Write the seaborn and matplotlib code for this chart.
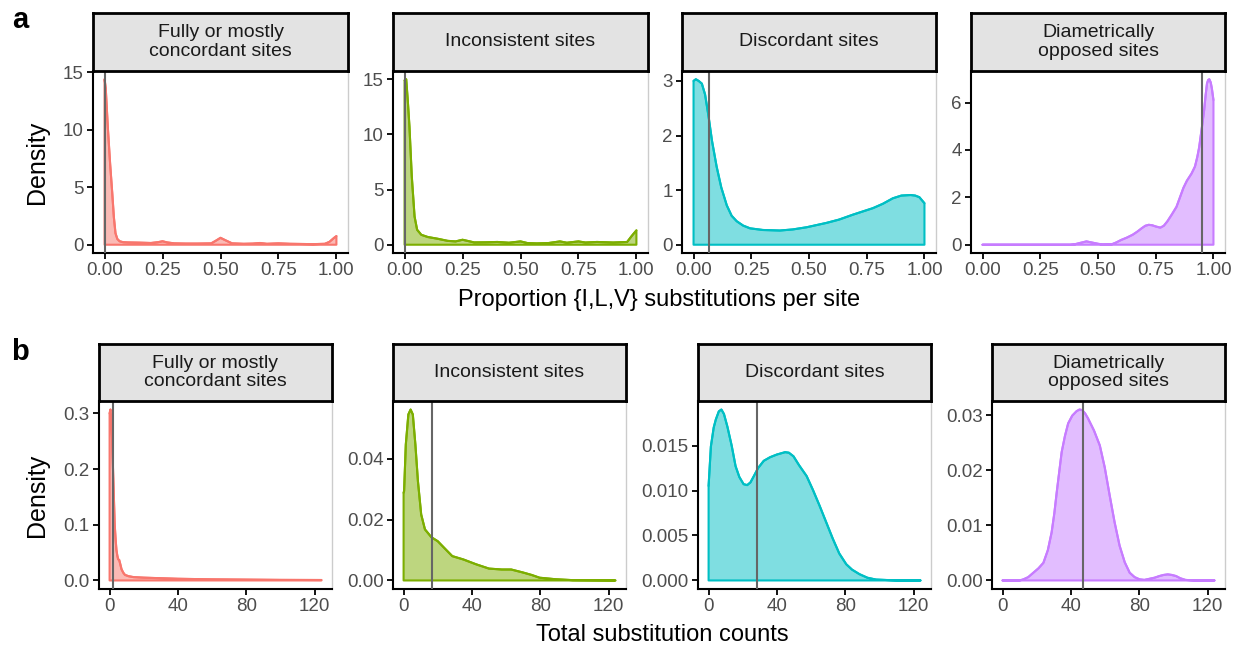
import numpy as np
import pandas as pd
import matplotlib
matplotlib.use("Agg")
import matplotlib.pyplot as plt
import seaborn as sns
from matplotlib.colors import to_rgba

sns.set_theme(style="white")
plt.rcParams['font.family'] = ['Liberation Sans', 'DejaVu Sans']

# ---------------- data ----------------
categories = ["Fully or mostly\nconcordant sites", "Inconsistent sites",
              "Discordant sites", "Diametrically\nopposed sites"]
colors = ["#F8766D", "#7CAE00", "#00BFC4", "#C77CFF"]

# Row a: density of proportion of {I,L,V} substitutions per site
a_conc_x = [0, 0.005, 0.014, 0.024, 0.033, 0.04, 0.047, 0.055, 0.065, 0.08, 0.1, 0.15, 0.2,
            0.23, 0.25, 0.27, 0.3, 0.35, 0.4, 0.46, 0.48, 0.5, 0.52, 0.55, 0.6, 0.64, 0.67,
            0.7, 0.75, 0.8, 0.9, 0.95, 0.97, 0.99, 1.0]
a_conc_y = [14.4, 13.6, 10.2, 7.0, 4.5, 2.4, 1.0, 0.5, 0.3, 0.22, 0.2, 0.18, 0.15,
            0.22, 0.3, 0.2, 0.12, 0.1, 0.1, 0.12, 0.35, 0.6, 0.4, 0.12, 0.08, 0.1, 0.15,
            0.08, 0.12, 0.08, 0.05, 0.08, 0.25, 0.6, 0.75]
a_inc_x = [0, 0.007, 0.014, 0.021, 0.031, 0.043, 0.054, 0.072, 0.1, 0.143, 0.186, 0.22, 0.25,
           0.3, 0.35, 0.4, 0.45, 0.5, 0.53, 0.57, 0.62, 0.67, 0.7, 0.75, 0.78, 0.83, 0.9,
           0.96, 0.98, 1.0]
a_inc_y = [14.9, 15.0, 13.0, 10.7, 6.2, 2.56, 1.36, 0.9, 0.7, 0.54, 0.35, 0.3, 0.45,
           0.21, 0.22, 0.25, 0.18, 0.3, 0.15, 0.12, 0.15, 0.3, 0.18, 0.3, 0.2, 0.25, 0.2,
           0.25, 0.8, 1.3]
a_dis_x = [0, 0.01, 0.022, 0.036, 0.05, 0.065, 0.08, 0.1, 0.12, 0.144, 0.165, 0.187, 0.215,
           0.245, 0.3, 0.374, 0.43, 0.49, 0.576, 0.63, 0.69, 0.777, 0.82, 0.863, 0.9, 0.94,
           0.96, 0.978, 1.0]
a_dis_y = [3.0, 3.03, 3.0, 2.95, 2.75, 2.35, 1.9, 1.43, 1.05, 0.72, 0.53, 0.43, 0.35,
           0.3, 0.27, 0.26, 0.28, 0.32, 0.4, 0.46, 0.55, 0.67, 0.75, 0.85, 0.9, 0.91,
           0.9, 0.87, 0.76]
a_opp_x = [0, 0.38, 0.40, 0.42, 0.45, 0.48, 0.5, 0.52, 0.56, 0.58, 0.6, 0.625, 0.65, 0.67,
           0.69, 0.705, 0.72, 0.735, 0.75, 0.77, 0.785, 0.8, 0.82, 0.84, 0.855, 0.87, 0.885,
           0.905, 0.92, 0.93, 0.938, 0.945, 0.952, 0.96, 0.966, 0.972, 0.977, 0.982, 0.988,
           0.993, 1.0]
a_opp_y = [0, 0, 0.02, 0.07, 0.14, 0.08, 0.04, 0.01, 0.02, 0.1, 0.2, 0.3, 0.42, 0.55,
           0.7, 0.8, 0.84, 0.82, 0.77, 0.72, 0.8, 0.98, 1.28, 1.6, 2.0, 2.4, 2.7,
           3.0, 3.3, 3.7, 4.1, 4.6, 5.1, 5.7, 6.3, 6.8, 6.95, 6.98, 6.85,
           6.6, 6.1]
a_medians = [0.0, 0.0, 0.069, 0.95]

# Row b: density of total substitution counts
b_conc_x = [0, 0.5, 1, 1.5, 2, 2.5, 3, 3.5, 4, 4.5, 5, 5.6, 6.2, 7, 8, 9, 11, 14, 20, 30,
            40, 60, 80, 100, 124]
b_conc_y = [0.30, 0.307, 0.29, 0.25, 0.2, 0.15, 0.1, 0.075, 0.055, 0.045, 0.038, 0.037,
            0.03, 0.02, 0.014, 0.01, 0.0077, 0.006, 0.005, 0.004, 0.003, 0.002, 0.0015,
            0.001, 0.0008]
b_inc_x = [0, 0.3, 1.3, 2.8, 4.1, 5.4, 6.9, 8.4, 10.3, 12.5, 16.3, 20, 23.8, 28.5, 35,
           42.5, 50, 57.5, 63, 70, 75, 79.6, 89, 99, 124]
b_inc_y = [0.0288, 0.0294, 0.0447, 0.0546, 0.0562, 0.0546, 0.0447, 0.0326, 0.0217, 0.0168,
           0.0142, 0.0129, 0.0107, 0.008, 0.0069, 0.0053, 0.0039, 0.0036, 0.0036, 0.0026,
           0.0018, 0.0009, 0.0004, 0.0001, 0.0]
b_dis_x = [0, 1.35, 3, 4.25, 6, 7.5, 9, 11, 13.5, 15.8, 18, 20.5, 22.6, 24.5, 26.5, 29,
           32.3, 36, 40, 44.8, 47, 49.7, 53, 57.4, 61, 65, 69, 72.8, 76.5, 80.6, 84, 88.3,
           93, 98, 110, 124]
b_dis_y = [0.0105, 0.0149, 0.0170, 0.0179, 0.0188, 0.019, 0.0185, 0.0171, 0.015, 0.0127,
           0.0115, 0.0107, 0.0106, 0.0109, 0.0116, 0.0125, 0.0133, 0.0137, 0.014, 0.01426,
           0.0142, 0.0138, 0.0128, 0.0116, 0.0101, 0.0083, 0.0064, 0.0046, 0.003, 0.0018,
           0.0012, 0.0007, 0.0003, 0.0001, 0.0, 0.0]
b_opp_x = [0, 10, 12.2, 15, 18, 21, 23.9, 26.5, 28.7, 30.3, 31.7, 33.2, 34.6, 36.5, 38.4,
           40.8, 43.3, 45, 46.6, 48.3, 50, 53.5, 56.9, 59.8, 62.7, 65.6, 68.5, 71.5, 74.4,
           77.3, 80.2, 83, 86, 89, 91.8, 94.3, 96.7, 99, 101.5, 104, 107, 112, 124]
b_opp_y = [0, 0, 0.0002, 0.0006, 0.0014, 0.0022, 0.0032, 0.0055, 0.0087, 0.0122, 0.016,
           0.0198, 0.0233, 0.0262, 0.0285, 0.0299, 0.0307, 0.031, 0.0309, 0.0303, 0.0294,
           0.0272, 0.0245, 0.0205, 0.0154, 0.0105, 0.0063, 0.0033, 0.0014, 0.0006, 0.0002,
           0.0001, 0.0003, 0.0005, 0.0008, 0.001, 0.0011, 0.001, 0.0008, 0.0004, 0.0001,
           0.0, 0.0]
b_medians = [2.0, 16.7, 28.1, 47.0]

a_yticks = [[0, 5, 10, 15], [0, 5, 10, 15], [0, 1, 2, 3], [0, 2, 4, 6]]
a_ylabels = [["0", "5", "10", "15"], ["0", "5", "10", "15"], ["0", "1", "2", "3"], ["0", "2", "4", "6"]]
a_xticks = [0, 0.25, 0.5, 0.75, 1.0]
a_xlabels = ["0.00", "0.25", "0.50", "0.75", "1.00"]
b_yticks = [[0, 0.1, 0.2, 0.3], [0, 0.02, 0.04], [0, 0.005, 0.01, 0.015], [0, 0.01, 0.02, 0.03]]
b_ylabels = [["0.0", "0.1", "0.2", "0.3"], ["0.00", "0.02", "0.04"],
             ["0.000", "0.005", "0.010", "0.015"], ["0.00", "0.01", "0.02", "0.03"]]
b_xticks = [0, 40, 80, 120]
b_xlabels = ["0", "40", "80", "120"]

rows = [
    dict(xs=[a_conc_x, a_inc_x, a_dis_x, a_opp_x], ys=[a_conc_y, a_inc_y, a_dis_y, a_opp_y],
         med=a_medians, yt=a_yticks, yl=a_ylabels, xt=a_xticks, xl=a_xlabels, xr=(0, 1.0),
         panels_px=[(93, 348), (393, 648), (682, 936), (971, 1225)], top=71, bottom=253,
         strip_top=13, title="Proportion {I,L,V} substitutions per site", title_y=300,
         letter="a", letter_y=20),
    dict(xs=[b_conc_x, b_inc_x, b_dis_x, b_opp_x], ys=[b_conc_y, b_inc_y, b_dis_y, b_opp_y],
         med=b_medians, yt=b_yticks, yl=b_ylabels, xt=b_xticks, xl=b_xlabels, xr=(0, 124),
         panels_px=[(99, 332), (393, 626), (698, 931), (992, 1225)], top=401, bottom=589,
         strip_top=344, title="Total substitution counts", title_y=635,
         letter="b", letter_y=352),
]

W, H = 1240, 648
fig = plt.figure(figsize=(W / 100, H / 100), dpi=100)

for row in rows:
    for i in range(4):
        l, r = row["panels_px"][i]
        ax = fig.add_axes([l / W, 1 - row["bottom"] / H, (r - l) / W, (row["bottom"] - row["top"]) / H])
        x = np.asarray(row["xs"][i], float)
        y = np.asarray(row["ys"][i], float)
        df = pd.DataFrame({"x": x, "y": y})
        col = colors[i]
        # filled area with full outline (ggplot outline.type = "full")
        px = np.concatenate([x, [x[-1], x[0]]])
        py = np.concatenate([y, [0, 0]])
        ax.fill(px, py, facecolor=to_rgba(col, 0.5), edgecolor=col, linewidth=1.5,
                joinstyle="round", zorder=2)
        sns.lineplot(data=df, x="x", y="y", color=col, linewidth=1.5, sort=False,
                     estimator=None, ax=ax, zorder=3)
        ax.axvline(row["med"][i], color="#666666", linewidth=1.5, zorder=4)
        x0, x1 = row["xr"]
        ax.set_xlim(x0 - 0.05 * (x1 - x0), x1 + 0.05 * (x1 - x0))
        ymax = y.max()
        ax.set_ylim(-0.05 * ymax, 1.05 * ymax)
        ax.set_xticks(row["xt"])
        ax.set_xticklabels(row["xl"])
        ax.set_yticks(row["yt"][i])
        ax.set_yticklabels(row["yl"][i])
        ax.set_xlabel("")
        ax.set_ylabel("")
        ax.tick_params(axis="both", which="both", direction="out", length=4.3, width=1.3,
                       color="black", labelsize=13.5, labelcolor="#4D4D4D", pad=2.5,
                       left=True, bottom=True)
        for s in ["left", "bottom"]:
            ax.spines[s].set_color("black")
            ax.spines[s].set_linewidth(1.5)
        for s in ["right", "top"]:
            ax.spines[s].set_color("#CCCCCC")
            ax.spines[s].set_linewidth(1.0)
        ax.set_facecolor("white")
        # strip
        sax = fig.add_axes([l / W, 1 - row["top"] / H, (r - l) / W, (row["top"] - row["strip_top"]) / H])
        sax.set_facecolor("#E3E3E3")
        sax.set_xticks([])
        sax.set_yticks([])
        for s in sax.spines.values():
            s.set_color("black")
            s.set_linewidth(2.0)
        sax.text(0.5, 0.5, categories[i], ha="center", va="center", fontsize=14,
                 color="#1A1A1A", transform=sax.transAxes, linespacing=1.1)
    cy = (row["top"] + row["bottom"]) / 2
    fig.text(37 / W, 1 - cy / H, "Density", rotation=90, ha="center", va="center",
             fontsize=18, color="black")
    cx = (row["panels_px"][0][0] + row["panels_px"][3][1]) / 2
    fig.text(cx / W, 1 - row["title_y"] / H, row["title"], ha="center", va="center",
             fontsize=17, color="black")
    fig.text(20 / W, 1 - row["letter_y"] / H, row["letter"], ha="center", va="center",
             fontsize=21, fontweight="bold", color="black")

fig.savefig("out.png", dpi=100, facecolor="white")
